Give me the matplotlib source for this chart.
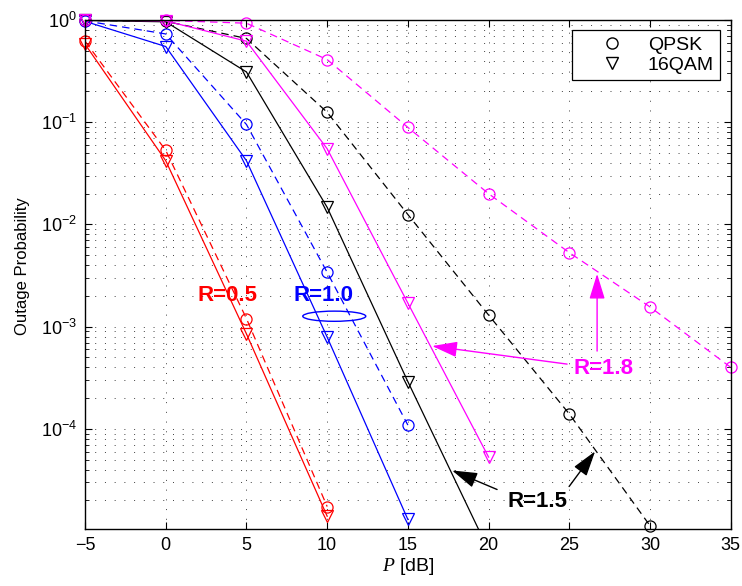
import numpy as np
import matplotlib
matplotlib.use("Agg")
import matplotlib.pyplot as plt
from matplotlib.patches import Ellipse

plt.rcParams['font.family'] = ['Liberation Sans', 'DejaVu Sans']
plt.rcParams['mathtext.fontset'] = 'custom'
plt.rcParams['mathtext.rm'] = 'Liberation Sans'
plt.rcParams['mathtext.sf'] = 'Liberation Sans'
plt.rcParams['mathtext.it'] = 'Liberation Serif:italic'

# SNR grid [dB]
P = [-5, 0, 5, 10, 15, 20, 25, 30, 35]

# outage probability, QPSK (dashed, circles) and 16QAM (solid, triangles)
r05_qpsk = [0.62, 0.053, 1.2e-3, 1.74e-5]
r05_qam = [0.58, 0.042, 8.5e-4, 1.4e-5]
r10_qpsk = [0.98, 0.73, 0.095, 3.4e-3, 1.09e-4]
r10_qam = [0.97, 0.55, 0.042, 7.9e-4, 1.3e-5]
r15_qpsk = [0.99, 0.97, 0.66, 0.125, 0.0125, 1.3e-3, 1.4e-4, 1.13e-5]
r15_qam = [0.99, 0.96, 0.31, 0.0147, 2.9e-4, 6.5e-6]
r18_qpsk = [1.0, 0.99, 0.93, 0.41, 0.089, 0.02, 5.3e-3, 1.56e-3, 4.0e-4]
r18_qam = [1.0, 0.98, 0.62, 0.055, 1.7e-3, 5.3e-5]

YMIN = 1.05e-5

fig = plt.figure(figsize=(7.42, 5.86), dpi=100)
ax = fig.add_axes([0.1146, 0.0973, 0.8702, 0.8686])

ms = 8
lw = 0.9
series = [
    (r05_qpsk, r05_qam, 'red'),
    (r10_qpsk, r10_qam, 'blue'),
    (r15_qpsk, r15_qam, 'black'),
    (r18_qpsk, r18_qam, 'magenta'),
]
for qpsk, qam, c in series:
    xq = np.array(P[:len(qpsk)])
    yq = np.array(qpsk)
    xa = np.array(P[:len(qam)])
    ya = np.array(qam)
    ax.plot(xq, yq, '--', color=c, lw=lw, dashes=(6, 4))
    ax.plot(xa, ya, '-', color=c, lw=lw)
    # markers are not clipped at the frame (MATLAB style)
    k = yq >= YMIN
    ax.plot(xq[k], yq[k], 'o', ms=ms, mfc='none', mec=c, mew=0.9, clip_on=False)
    k = ya >= YMIN
    ax.plot(xa[k], ya[k], 'v', ms=ms, mfc='none', mec=c, mew=0.9, clip_on=False)

ax.set_yscale('log')
ax.set_xlim(-5, 35)
ax.set_ylim(YMIN, 1)
ax.set_xticks(range(-5, 36, 5))
ax.set_xticklabels(['\u22125'] + [str(v) for v in range(0, 36, 5)])
ax.set_yticks([1, 1e-1, 1e-2, 1e-3, 1e-4])
ax.set_yticklabels([r'$\mathregular{10^{0}}$', r'$\mathregular{10^{-1}}$',
                    r'$\mathregular{10^{-2}}$', r'$\mathregular{10^{-3}}$',
                    r'$\mathregular{10^{-4}}$'])
ax.grid(True, which='major', linestyle=(0, (1, 9)), color='0.25', lw=0.7)
ax.grid(True, which='minor', axis='y', linestyle=(0, (1, 9)), color='0.25', lw=0.7)
ax.tick_params(which='both', direction='in', top=True, right=True, labelsize=13)
ax.tick_params(which='major', length=5, pad=6)
ax.tick_params(which='minor', length=3)
for s in ax.spines.values():
    s.set_linewidth(1.0)
ax.set_xlabel('$P$ [dB]', fontsize=14, labelpad=1)
ax.set_ylabel('Outage Probability', fontsize=12)
ax.yaxis.set_label_coords(-0.086, 0.517)

# legend with black markers only
h1, = ax.plot([], [], 'o', mfc='none', mec='black', ms=ms, ls='none')
h2, = ax.plot([], [], 'v', mfc='none', mec='black', ms=ms, ls='none')
leg = ax.legend([h1, h2], ['QPSK', '16QAM'], loc='upper right', fontsize=14,
                fancybox=False, framealpha=1, edgecolor='black',
                bbox_to_anchor=(0.983, 0.980), borderaxespad=0,
                borderpad=0.3, handlelength=3.5, handletextpad=0.1,
                labelspacing=0.15)
leg.get_frame().set_linewidth(0.9)


def px(x, y):
    return (x - 85) / 16.14 - 5, 10 ** (-(y - 20) / 101.9)


def arrow(tip, tail, c):
    ax.annotate('', xy=px(*tip), xytext=px(*tail),
                arrowprops=dict(arrowstyle='-|>,head_length=1.3,head_width=0.4',
                                color=c, lw=1, shrinkA=0, shrinkB=0,
                                mutation_scale=12))


ax.text(*px(227, 295), 'R=0.5', color='red', fontsize=16, fontweight='bold',
        ha='center', va='center')
ax.text(*px(323, 295), 'R=1.0', color='blue', fontsize=16, fontweight='bold',
        ha='center', va='center')
ax.add_patch(Ellipse((0.386, 0.418), 0.0976, 0.02, transform=ax.transAxes,
                     fill=False, edgecolor='blue', lw=1))
ax.text(*px(537, 500), 'R=1.5', color='black', fontsize=16, fontweight='bold',
        ha='center', va='center')
arrow((452, 469), (497, 488), 'black')
arrow((595, 450), (569, 485), 'black')
ax.text(*px(603, 367), 'R=1.8', color='magenta', fontsize=16, fontweight='bold',
        ha='center', va='center')
arrow((432, 345), (567, 363), 'magenta')
arrow((597, 273), (597, 350), 'magenta')

fig.savefig('out.png', dpi=100)
